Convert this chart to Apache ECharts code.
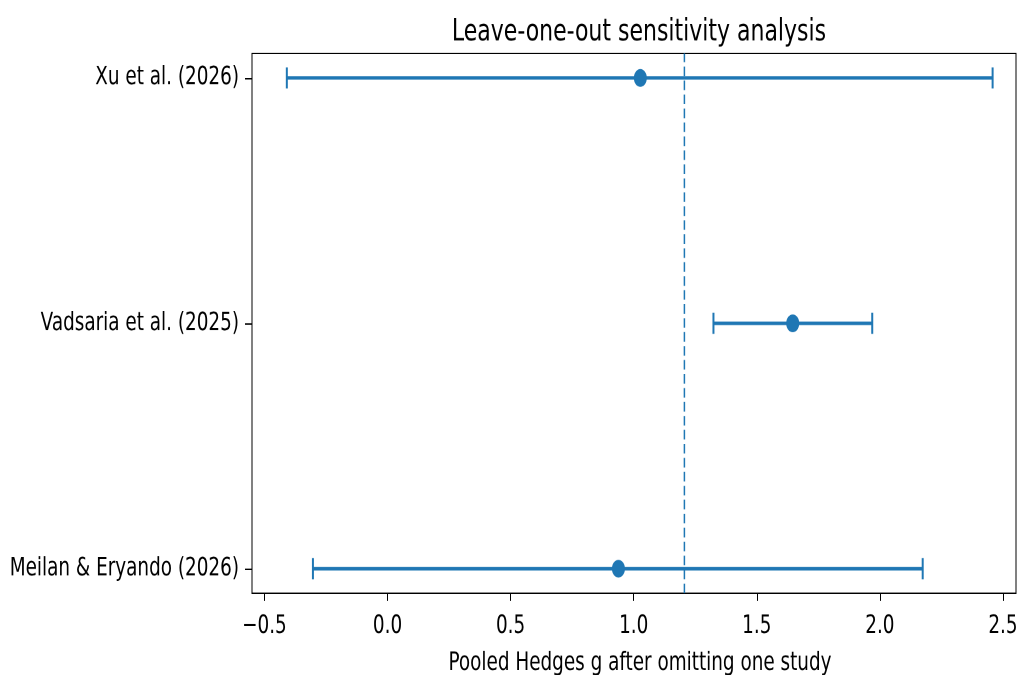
<!DOCTYPE html>
<html>
<head>
<meta charset="utf-8">
<script src="https://cdn.jsdelivr.net/npm/echarts@6/dist/echarts.min.js"></script>
<style>
    html, body {
        margin: 0;
        padding: 0;
        background: #fff;
    }
    #wrap {
        position: relative;
        width: 1018px;
        height: 675px;
        overflow: hidden;
    }
    /* the reference figure is stretched vertically (~1.37x), so draw flat and stretch */
    #main {
        position: absolute;
        left: 0;
        top: 0;
        width: 1018px;
        height: 493px;
        transform: scaleY(1.37);
        transform-origin: 0 0;
    }
</style>
</head>
<body>
<div id="wrap"><div id="main"></div></div>
<script>
// studies, top row first -> y position 2, 1, 0
const studies = ['Meilan & Eryando (2026)', 'Vadsaria et al. (2025)', 'Xu et al. (2026)'];
const estimate = [0.938, 1.646, 1.027];
const lower = [-0.303, 1.324, -0.409];
const upper = [2.174, 1.969, 2.458];
const pooled = 1.206;
const xTicks = [-0.5, 0, 0.5, 1, 1.5, 2, 2.5];
const yTicks = [0, 1, 2];

const blue = '#1f77b4';
const font = 'DejaVu Sans';

const barData = studies.map((s, i) => [lower[i], upper[i], i]);
const dotData = studies.map((s, i) => [estimate[i], i]);

const chart = echarts.init(document.getElementById('main'), null, { devicePixelRatio: 2 });

const option = {
    animation: false,
    title: {
        text: 'Leave-one-out sensitivity analysis',
        left: 634,
        textAlign: 'center',
        top: 8,
        textStyle: {
            fontFamily: font,
            fontSize: 22,
            fontWeight: 'normal',
            color: '#000'
        }
    },
    grid: {
        left: 252,
        right: 2,
        top: 39,
        bottom: 60,
        outerBoundsMode: 'none',
        show: true,
        borderColor: '#000',
        borderWidth: 1,
        backgroundColor: 'transparent'
    },
    xAxis: {
        type: 'value',
        min: -0.5505,
        max: 2.553,
        name: 'Pooled Hedges g after omitting one study',
        nameLocation: 'middle',
        nameGap: 42,
        nameTextStyle: {
            fontFamily: font,
            fontSize: 18.4,
            color: '#000',
            padding: [0, 0, 0, 12]
        },
        axisLine: { show: false, onZero: false },
        splitLine: { show: false },
        axisTick: {
            show: true,
            length: 5.5,
            customValues: xTicks,
            lineStyle: { color: '#000', width: 1 }
        },
        axisLabel: {
            customValues: xTicks,
            margin: 15,
            fontFamily: font,
            fontSize: 18.4,
            color: '#000',
            formatter: v => v.toFixed(1).replace('-', '\u2212')
        }
    },
    yAxis: {
        type: 'value',
        min: -0.1,
        max: 2.1,
        axisLine: { show: false, onZero: false },
        splitLine: { show: false },
        axisTick: {
            show: true,
            length: 7,
            customValues: yTicks,
            lineStyle: { color: '#000', width: 1 }
        },
        axisLabel: {
            customValues: yTicks,
            margin: 13,
            fontFamily: font,
            fontSize: 18.4,
            color: '#000',
            formatter: v => studies[Math.round(v)]
        }
    },
    series: [
        {
            // confidence intervals with caps
            type: 'custom',
            data: barData,
            renderItem: function (params, api) {
                const lo = api.coord([api.value(0), api.value(2)]);
                const hi = api.coord([api.value(1), api.value(2)]);
                const cap = 7.7;
                return {
                    type: 'group',
                    children: [
                        { type: 'line', shape: { x1: lo[0], y1: lo[1], x2: hi[0], y2: hi[1] }, style: { stroke: blue, lineWidth: 2.5 } },
                        { type: 'line', shape: { x1: lo[0], y1: lo[1] - cap, x2: lo[0], y2: lo[1] + cap }, style: { stroke: blue, lineWidth: 2 } },
                        { type: 'line', shape: { x1: hi[0], y1: hi[1] - cap, x2: hi[0], y2: hi[1] + cap }, style: { stroke: blue, lineWidth: 2 } }
                    ]
                };
            },
            z: 2
        },
        {
            type: 'scatter',
            data: dotData,
            symbol: 'circle',
            symbolSize: 13,
            itemStyle: { color: blue, opacity: 1 },
            z: 3
        },
        {
            // pooled estimate
            type: 'line',
            data: [[pooled, -0.1], [pooled, 2.1]],
            showSymbol: false,
            lineStyle: { color: blue, width: 1.5, type: [7, 3.2] },
            z: 1
        }
    ]
};

chart.setOption(option);
</script>
</body>
</html>
